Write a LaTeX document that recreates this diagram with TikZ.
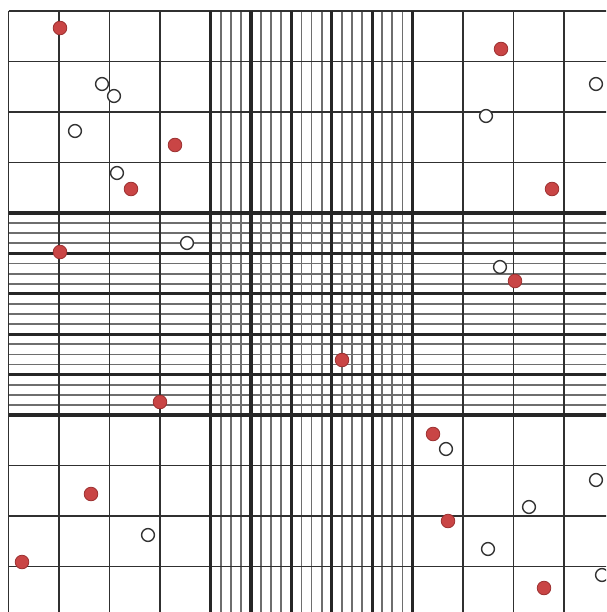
\documentclass[tikz,border=0pt]{standalone}
\usepackage{tikz}
\usepackage{xcolor}
\definecolor{gridgray}{HTML}{303030}
\definecolor{finegray}{HTML}{6E6E6E}
\definecolor{cellred}{HTML}{C94545}
\definecolor{cellrim}{HTML}{9C3030}

\begin{document}
\begin{tikzpicture}[
    x=1pt, y=-1pt,
    outerLine/.style={draw=gridgray, line width=1.7pt},
    fineLine/.style={draw=finegray, line width=1.8pt},
    thickLine/.style={draw=black!85, line width=3.2pt},
    liveCell/.style={draw=black!80, fill=white, line width=1.4pt},
    deadCell/.style={draw=cellrim, fill=cellred, line width=0.8pt}
]
    \useasboundingbox (0,0) rectangle (606,612);
    \fill[white] (0,0) rectangle (606,612);
    \clip (0,0) rectangle (606,612);

    % Fine subdivision of the central strips
    \foreach \k in {1,2,3,5,6,7,9,10,11,13,14,15,17,18,19} {
        \draw[fineLine] (210.5+\k*10.1, 11) -- (210.5+\k*10.1, 640);
        \draw[fineLine] (8.5, 213+\k*10.1) -- (640, 213+\k*10.1);
    }

    % Large counting squares
    \foreach \i in {0,1,2,3,9,10,11,12} {
        \draw[outerLine] (8.5+\i*50.5, 11) -- (8.5+\i*50.5, 640);
        \draw[outerLine] (8.5, 11+\i*50.5) -- (640, 11+\i*50.5);
    }

    % Triple-line boundaries of the central square
    \foreach \k in {0,4,8,12,16,20} {
        \draw[thickLine] (210.5+\k*10.1, 11) -- (210.5+\k*10.1, 640);
        \draw[thickLine] (8.5, 213+\k*10.1) -- (640, 213+\k*10.1);
    }

    % Stained cells
    \foreach \cx/\cy in {60/28, 175/145, 131/189, 60/252, 501/49, 552/189,
                         515/281, 342/360, 160/402, 91/494, 22/562,
                         433/434, 448/521, 544/588} {
        \draw[deadCell] (\cx,\cy) circle (6.8);
    }

    % Unstained cells
    \foreach \cx/\cy in {102/84, 114/96, 75/131, 117/173, 187/243, 486/116,
                         596/84, 500/267, 446/449, 596/480, 529/507,
                         148/535, 488/549, 602/575} {
        \draw[liveCell] (\cx,\cy) circle (6.4);
    }
\end{tikzpicture}
\end{document}
